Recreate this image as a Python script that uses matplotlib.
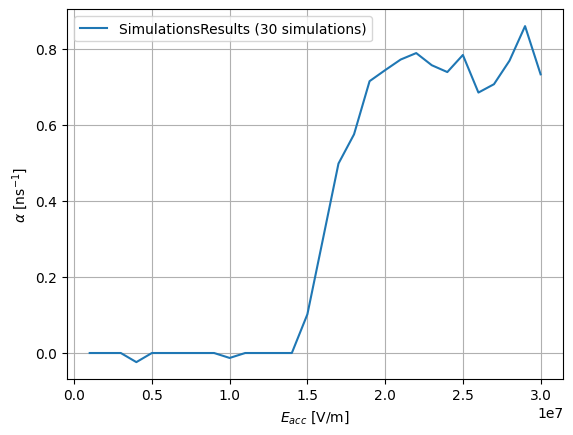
import numpy as np
import matplotlib
matplotlib.use('Agg')
import matplotlib.pyplot as plt

# accelerating field [V/m]
e_acc = np.arange(1, 31) * 1e6

# growth rate alpha [1/ns]
alpha = [0.0, 0.0, 0.0, -0.024, 0.0, 0.0, 0.0, 0.0, 0.0, -0.013,
         0.0, 0.0, 0.0, 0.0, 0.102, 0.30, 0.499, 0.576, 0.716, 0.745,
         0.773, 0.790, 0.758, 0.740, 0.785, 0.686, 0.708, 0.770, 0.861, 0.734]

label = "SimulationsResults (30 simulations)"

fig, ax = plt.subplots(figsize=(6.4, 4.8), dpi=100)
ax.plot(e_acc, alpha, label=label)
ax.set_xlabel(r"$E_{acc}$ [V/m]")
ax.set_ylabel(r"$\alpha$ [ns$^{-1}$]")
ax.grid(True)
ax.legend(loc='upper left')

fig.savefig("out.png", dpi=100, bbox_inches='tight')
